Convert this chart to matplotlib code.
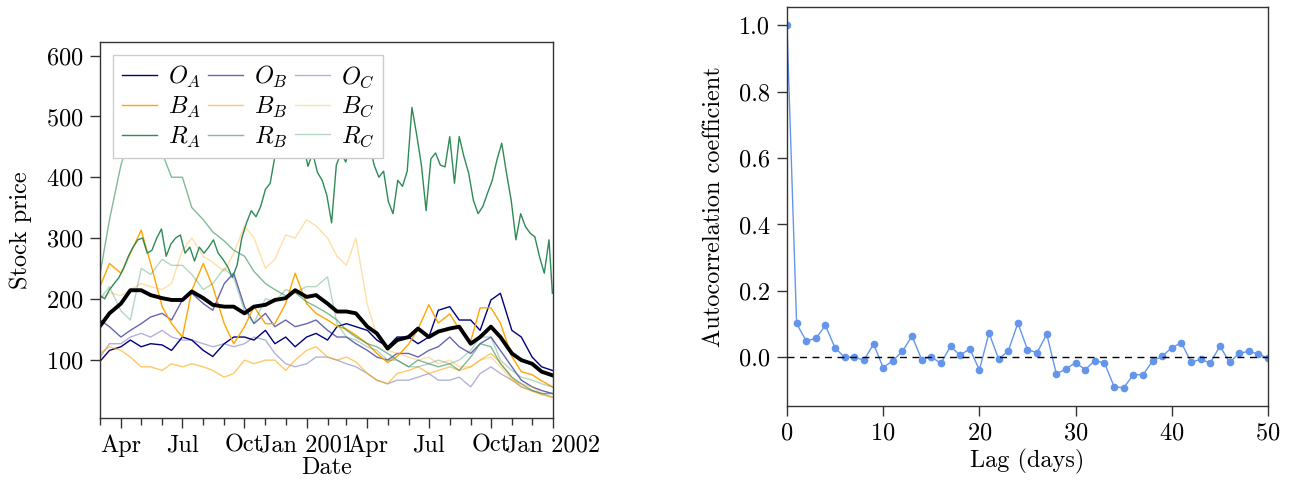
import matplotlib
matplotlib.use("Agg")
import matplotlib.pyplot as plt
import matplotlib.dates as mdates
import matplotlib.ticker as mticker
import numpy as np
import pandas as pd

plt.rcParams['font.family'] = 'serif'
plt.rcParams['font.serif'] = ['cmr10']
plt.rcParams['mathtext.fontset'] = 'cm'
plt.rcParams['axes.formatter.use_mathtext'] = True
plt.rcParams['font.size'] = 17.5

###########################
# data
###########################
# semi-monthly readings (1st and 15th of each month)
dates = list(pd.date_range('2000-03-01', '2001-12-15', freq='SMS')) + [pd.Timestamp('2001-12-31')]
# weekly readings for the most visible series
weeks = list(pd.date_range('2000-03-01', periods=96, freq='7D')) + [pd.Timestamp('2001-12-31')]

O_A = [97, 115, 121, 132, 121, 126, 124, 115, 137, 132, 115, 105, 126, 137, 137, 132, 148, 126, 137, 121, 137,
       143, 132, 154, 159, 154, 148, 132, 121, 137, 137, 126, 137, 181, 187, 165, 165, 148, 198, 209, 148, 137, 104, 88, 82]
O_B = [165, 154, 137, 148, 159, 170, 176, 165, 198, 209, 192, 181, 225, 242, 187, 159, 176, 154, 165, 154, 159,
       165, 148, 137, 137, 126, 115, 104, 99, 110, 110, 104, 115, 121, 137, 121, 110, 126, 137, 115, 88, 66, 55, 49, 44]
O_C = [104, 126, 126, 137, 143, 137, 148, 137, 132, 132, 126, 121, 126, 121, 126, 137, 132, 110, 93, 88, 93,
       104, 104, 99, 93, 88, 77, 66, 60, 66, 66, 71, 77, 66, 66, 71, 55, 77, 88, 77, 66, 55, 49, 44, 38]
B_A = [220, 258, 242, 275, 313, 258, 187, 159, 137, 214, 258, 220, 159, 126, 154, 187, 159, 159, 192, 242, 192,
       176, 165, 155, 150, 140, 126, 110, 95, 105, 125, 150, 190, 160, 175, 150, 130, 185, 185, 160, 105, 80, 75, 65, 55]
B_B = [110, 121, 115, 104, 88, 88, 82, 93, 88, 93, 88, 82, 71, 77, 99, 93, 99, 99, 82, 99, 115,
       121, 104, 99, 104, 96, 77, 66, 60, 77, 82, 88, 77, 82, 88, 82, 88, 99, 110, 95, 70, 55, 48, 42, 38]
B_C = [200, 210, 205, 215, 225, 220, 215, 225, 280, 300, 270, 260, 245, 275, 320, 300, 250, 265, 305, 300, 330,
       320, 300, 270, 255, 300, 190, 140, 115, 110, 104, 99, 104, 93, 99, 88, 88, 99, 104, 88, 66, 60, 55, 44, 44]
R_A = [205, 200, 215, 225, 235, 250, 270, 285, 297, 300, 275, 280, 300, 315, 270, 290, 300, 305, 275, 285,
       262, 285, 275, 285, 297, 275, 265, 253, 235, 255, 300, 325, 345, 335, 352, 380, 390, 434, 460, 470,
       480, 470, 460, 455, 418, 440, 408, 395, 370, 325, 420, 440, 425, 455, 460, 470, 450, 455, 420, 400,
       410, 360, 340, 395, 385, 410, 515, 470, 420, 345, 430, 440, 420, 417, 467, 390, 467, 434, 407, 362,
       340, 352, 374, 395, 429, 456, 407, 362, 297, 340, 319, 308, 302, 269, 242, 297, 209]
R_B = [240, 330, 420, 470, 480, 470, 440, 400, 400, 350, 330, 310, 295, 280, 270, 245, 225, 215, 205, 210, 195,
       187, 176, 165, 148, 137, 126, 121, 110, 99, 88, 99, 93, 88, 93, 82, 104, 126, 121, 93, 71, 60, 49, 44, 44]
R_C = [200, 220, 180, 165, 250, 240, 265, 255, 255, 240, 215, 225, 250, 235, 180, 160, 200, 195, 215, 210, 220,
       220, 236, 159, 137, 132, 121, 115, 99, 99, 88, 88, 93, 99, 93, 99, 115, 137, 137, 99, 82, 71, 66, 60, 55]
mean_price = [155, 176, 192, 214, 214, 206, 201, 198, 198, 212, 201, 190, 187, 187, 176, 187, 190, 198, 201, 214, 203,
              206, 192, 179, 179, 176, 154, 143, 118, 132, 137, 151, 137, 146, 151, 154, 126, 137, 154, 137, 110, 99, 93, 80, 74]

lags = np.arange(51)
acf = [1.0, 0.102, 0.049, 0.057, 0.096, 0.028, 0.0, 0.001, -0.009, 0.040, -0.031, -0.010, 0.018, 0.064,
       -0.007, 0.001, -0.018, 0.033, 0.006, 0.026, -0.038, 0.073, -0.005, 0.019, 0.103, 0.023, 0.014,
       0.070, -0.050, -0.035, -0.016, -0.037, -0.010, -0.017, -0.088, -0.092, -0.052, -0.053, -0.011,
       0.003, 0.029, 0.044, -0.015, -0.006, -0.017, 0.034, -0.015, 0.012, 0.018, 0.010, -0.003]

series = [
    (dates, O_A, 'navy', 1.0, r'$O_A$'), (dates, O_B, 'navy', 0.6, r'$O_B$'), (dates, O_C, 'navy', 0.3, r'$O_C$'),
    (dates, B_A, 'orange', 1.0, r'$B_A$'), (dates, B_B, 'orange', 0.6, r'$B_B$'), (dates, B_C, 'orange', 0.35, r'$B_C$'),
    (weeks, R_A, 'seagreen', 1.0, r'$R_A$'), (dates, R_B, 'seagreen', 0.6, r'$R_B$'), (dates, R_C, 'seagreen', 0.35, r'$R_C$'),
]

fig = plt.figure(figsize=(13.09, 4.86), dpi=100)
ax1 = fig.add_axes([0.0764, 0.140, 0.3461, 0.7736])
ax2 = fig.add_axes([0.6012, 0.1646, 0.3675, 0.8210])

#########################
# left : stock prices
#########################
handles = []
for x, vals, col, a, lab in series:
    h, = ax1.plot(x, vals, color=col, alpha=a, lw=1.0, label=lab)
    handles.append(h)
ax1.plot(dates, mean_price, color='black', lw=2.8)

ax1.set_xlim(pd.Timestamp('2000-03-01'), pd.Timestamp('2002-01-01'))
ax1.set_ylim(3.8, 622.6)
ax1.set_yticks([100, 200, 300, 400, 500, 600])
ax1.xaxis.set_major_locator(mdates.MonthLocator(bymonth=[1, 4, 7, 10]))
ax1.xaxis.set_minor_locator(mdates.MonthLocator())
ax1.xaxis.set_major_formatter(mticker.FuncFormatter(
    lambda x, pos: mdates.num2date(x).strftime('Jan %Y') if mdates.num2date(x).month == 1
    else mdates.num2date(x).strftime('%b')))
ax1.set_xlabel('Date', labelpad=0)
ax1.set_ylabel('Stock price', labelpad=10)

# legend filled row by row: O, B, R rows
order = [0, 3, 6, 1, 4, 7, 2, 5, 8]
leg = ax1.legend([handles[i] for i in order], [series[i][4] for i in order],
                 ncol=3, loc='upper left', handlelength=1.45, handletextpad=0.45,
                 columnspacing=0.3, borderaxespad=0.55, fancybox=False, framealpha=1,
                 edgecolor='#cccccc', fontsize=17.5, labelspacing=0.2, borderpad=0.35)

#########################
# right : autocorrelation
#########################
ax2.plot(lags, acf, color='cornflowerblue', lw=1.0, marker='o', markersize=4.5)
ax2.axhline(0, color='black', ls='--', lw=1.0, dashes=(5, 4))
ax2.set_xlim(0, 50)
ax2.set_yticks([0.0, 0.2, 0.4, 0.6, 0.8, 1.0])
ax2.yaxis.set_major_formatter(mticker.FormatStrFormatter('%.1f'))
ax2.set_xlabel('Lag (days)', labelpad=3)
ax2.set_ylabel('Autocorrelation coefficient', labelpad=10)

for ax in (ax1, ax2):
    for s in ax.spines.values():
        s.set_color('#333333')
        s.set_linewidth(1.0)
    ax.tick_params(which='both', direction='out', length=7, width=1, color='#333333', pad=5)
    ax.tick_params(which='minor', length=5)

fig.savefig('out.png', dpi=100)
